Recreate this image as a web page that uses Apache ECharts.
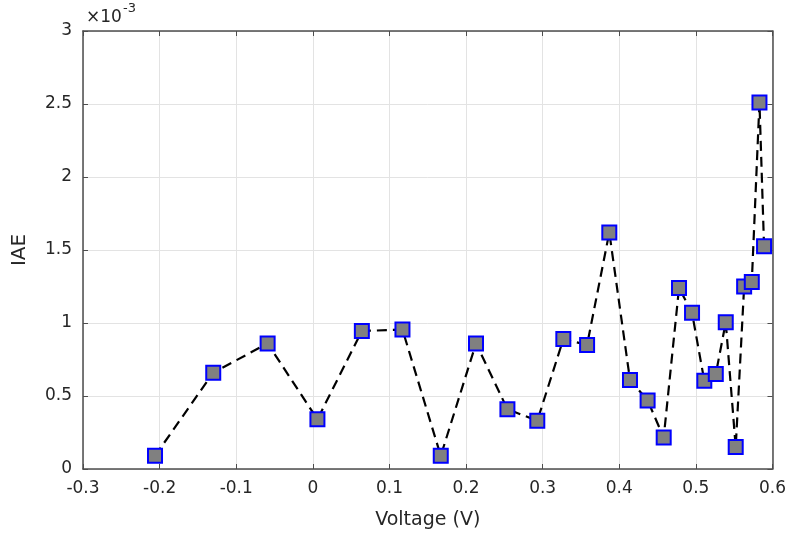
<!DOCTYPE html>
<html>
<head>
    <meta charset="utf-8">
    <title>IAE vs Voltage</title>
    <script src="https://cdn.jsdelivr.net/npm/echarts@6/dist/echarts.min.js"></script>
    <style>
        html, body {margin: 0; padding: 0; background: #fff;}
        #main {width: 789px; height: 536px;}
    </style>
</head>
<body>
<div id="main"></div>
<script>
    // voltage (V)
    var voltage = [-0.206, -0.130, -0.059, 0.006, 0.064, 0.117, 0.167, 0.213, 0.254, 0.293,
        0.327, 0.358, 0.387, 0.414, 0.437, 0.458, 0.478, 0.495, 0.511, 0.526,
        0.539, 0.552, 0.563, 0.573, 0.583, 0.589];
    // IAE, in units of 1e-3
    var iae = [0.09, 0.66, 0.86, 0.34, 0.945, 0.955, 0.09, 0.86, 0.41, 0.33,
        0.89, 0.85, 1.62, 0.61, 0.47, 0.215, 1.24, 1.07, 0.605, 0.65,
        1.005, 0.15, 1.25, 1.28, 2.51, 1.525];
    var xTicks = [-0.3, -0.2, -0.1, 0, 0.1, 0.2, 0.3, 0.4, 0.5, 0.6];
    var yTicks = [0, 0.5, 1, 1.5, 2, 2.5, 3];

    var axisCol = '#4d4d4d';
    var textCol = '#262626';
    var font = 'DejaVu Sans, Arial, sans-serif';

    var points = voltage.map(function (v, i) { return [v, iae[i]]; });

    var chart = echarts.init(document.getElementById('main'));
    var option = {
        animation: false,
        backgroundColor: '#fff',
        grid: {left: 83, right: 14, top: 31, bottom: 67},
        // exponent note (x10^-3)
        graphic: [
            {type: 'text', left: 86, top: 9, style: {text: '×10', fontSize: 17, fill: textCol, fontFamily: font}},
            {type: 'text', left: 123, top: 2, style: {text: '-3', fontSize: 13, fill: textCol, fontFamily: font}}
        ],
        xAxis: [{
            type: 'value',
            min: -0.3, max: 0.6, interval: 0.1,
            name: 'Voltage (V)',
            nameLocation: 'middle',
            nameGap: 42,
            nameTextStyle: {fontSize: 19, color: textCol, fontFamily: font},
            axisLine: {show: true, onZero: false, lineStyle: {color: axisCol, width: 1.5}},
            axisTick: {show: true, inside: true, length: 5, lineStyle: {color: axisCol}},
            axisLabel: {
                fontSize: 17, color: textCol, fontFamily: font, margin: 11,
                formatter: function (v) {
                    var r = Math.round(v * 10) / 10;
                    return xTicks.indexOf(r) >= 0 ? String(r) : '';
                }
            },
            splitLine: {show: true, lineStyle: {color: '#e3e3e3', width: 1}}
        }, {
            type: 'value', position: 'top',
            min: -0.3, max: 0.6, interval: 0.1,
            axisLine: {show: true, onZero: false, lineStyle: {color: axisCol, width: 1.5}},
            axisTick: {show: true, inside: true, length: 5, lineStyle: {color: axisCol}},
            axisLabel: {show: false},
            splitLine: {show: false}
        }],
        yAxis: [{
            type: 'value',
            min: 0, max: 3, interval: 0.5,
            name: 'IAE',
            nameLocation: 'middle',
            nameGap: 53,
            nameTextStyle: {fontSize: 20, color: textCol, fontFamily: font},
            axisLine: {show: true, onZero: false, lineStyle: {color: axisCol, width: 1.5}},
            axisTick: {show: true, inside: true, length: 5, lineStyle: {color: axisCol}},
            axisLabel: {
                fontSize: 17, color: textCol, fontFamily: font, margin: 11,
                formatter: function (v) { return yTicks.indexOf(v) >= 0 ? String(v) : ''; }
            },
            splitLine: {show: true, lineStyle: {color: '#e3e3e3', width: 1}}
        }, {
            type: 'value', position: 'right',
            min: 0, max: 3, interval: 0.5,
            axisLine: {show: true, onZero: false, lineStyle: {color: axisCol, width: 1.5}},
            axisTick: {show: true, inside: true, length: 5, lineStyle: {color: axisCol}},
            axisLabel: {show: false},
            splitLine: {show: false}
        }],
        series: [{
            type: 'line',
            data: points,
            symbol: 'rect',
            symbolSize: 14,
            itemStyle: {color: '#808080', borderColor: '#0000ff', borderWidth: 2},
            lineStyle: {color: '#000', width: 2.2, type: [10, 6]},
            z: 3
        }]
    };
    chart.setOption(option);
</script>
</body>
</html>
